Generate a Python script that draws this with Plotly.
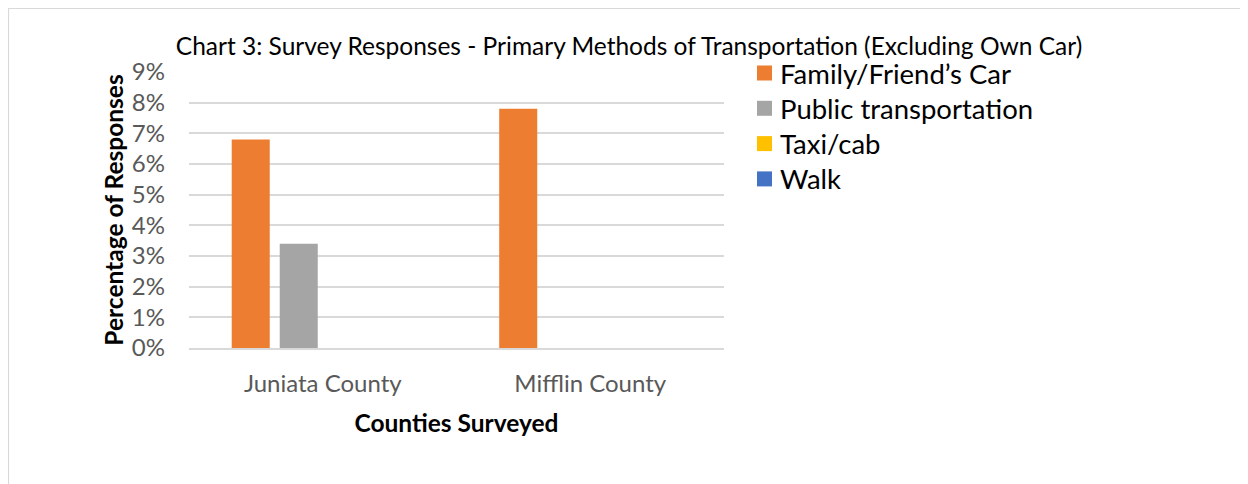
import plotly.graph_objects as go

categories = ["Juniata County", "Mifflin County"]
series_names = ["Family/Friend\u2019s Car", "Public transportation", "Taxi/cab", "Walk"]
family_car = [0.068, 0.078]
public_transport = [0.034, 0.0]
taxi_cab = [0.0, 0.0]
walk = [0.0, 0.0]
y_ticks = [0, 0.01, 0.02, 0.03, 0.04, 0.05, 0.06, 0.07, 0.08, 0.09]

colors = ["#ED7D31", "#A5A5A5", "#FFC000", "#4472C4"]
values = [family_car, public_transport, taxi_cab, walk]

FONT = "Lato, Carlito, Calibri, sans-serif"

W, H = 1240, 476
L, R, T, B = 181, 524, 64, 136
PW, PH = W - L - R, H - T - B


def px_x(x):
    return (x - L) / PW


def px_y(y):
    return 1 - (y - T) / PH


fig = go.Figure()
for name, vals, col in zip(series_names, values, colors):
    fig.add_trace(go.Bar(
        x=categories, y=vals, name=name,
        marker=dict(color=col, line=dict(width=0)),
        showlegend=False,
    ))

# legend drawn as annotations + swatches
legend_shapes = []
legend_annots = []
for i, (name, col) in enumerate(zip(series_names, colors)):
    cy = 65 + i * 35.3
    legend_shapes.append(dict(
        type="rect", xref="paper", yref="paper",
        x0=px_x(749), x1=px_x(764), y0=px_y(cy + 7.5), y1=px_y(cy - 7.5),
        fillcolor=col, line=dict(width=0),
    ))
    legend_annots.append(dict(
        text=name, xref="paper", yref="paper", x=px_x(770), y=px_y(cy),
        xanchor="left", yanchor="middle", showarrow=False,
        font=dict(family=FONT, size=27.5, color="#000000"),
    ))

border = dict(type="rect", xref="paper", yref="paper",
              x0=-(L - 0.5) / PW, x1=1 + (R + 20) / PW,
              y0=-(B + 20) / PH, y1=1 + (T - 0.5) / PH,
              line=dict(color="#D9D9D9", width=1.2), layer="below")

fig.update_layout(
    width=W, height=H,
    paper_bgcolor="white", plot_bgcolor="white",
    margin=dict(l=L, r=R, t=T, b=B),
    barmode="group", bargap=0.282, bargroupgap=0.208,
    font=dict(family=FONT, color="#595959", size=24),
    title=dict(
        text="Chart 3: Survey Responses - Primary Methods of Transportation (Excluding Own Car)",
        x=621 / W, xanchor="center", y=1 - 38 / H, yanchor="middle",
        font=dict(family=FONT, size=24.5, color="#000000"),
    ),
    showlegend=False,
    xaxis=dict(
        showgrid=False, showline=True, linecolor="#D9D9D9", linewidth=1.5,
        ticks="", tickfont=dict(size=24, color="#595959"), ticklabelstandoff=13,
        title=dict(text="<b>Counties Surveyed</b>", font=dict(size=24.5, color="#000000"), standoff=19),
    ),
    yaxis=dict(
        range=[0, 0.09], tickvals=y_ticks, tickformat=".0%",
        showgrid=True, gridcolor="#D9D9D9", gridwidth=1.5, zeroline=False,
        ticks="", tickfont=dict(size=24, color="#595959"), ticklabelstandoff=23,
        title=dict(text="<b>Percentage of Responses</b>", font=dict(size=24.5, color="#000000"), standoff=1),
    ),
    shapes=[border] + legend_shapes,
    annotations=legend_annots,
)

fig.write_html("out.html")
